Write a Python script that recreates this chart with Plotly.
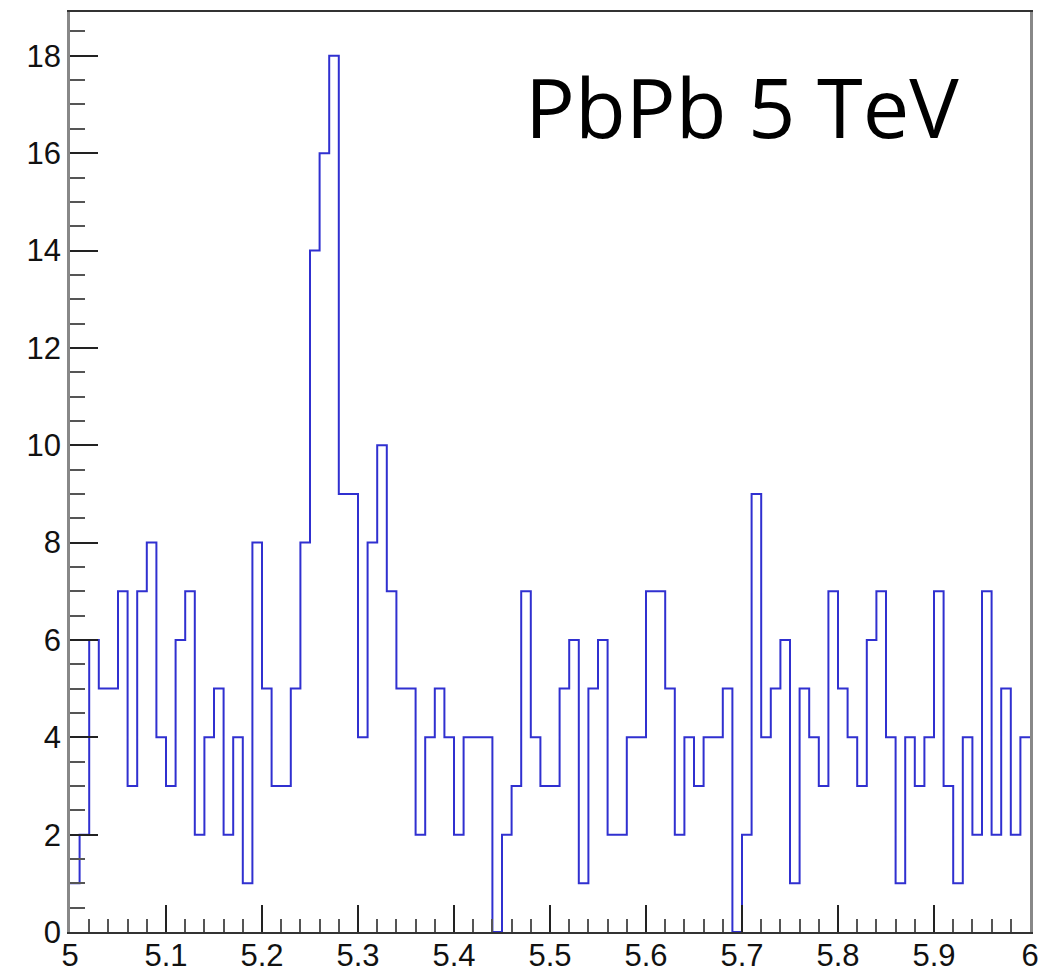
import plotly.graph_objects as go

# Histogram: 100 bins from 5.00 to 6.00 (width 0.01)
bin_start = 5.0
bin_width = 0.01
counts = [
    1, 2, 6, 5, 5, 7, 3, 7, 8, 4,
    3, 6, 7, 2, 4, 5, 2, 4, 1, 8,
    5, 3, 3, 5, 8, 14, 16, 18, 9, 9,
    4, 8, 10, 7, 5, 5, 2, 4, 5, 4,
    2, 4, 4, 4, 0, 2, 3, 7, 4, 3,
    3, 5, 6, 1, 5, 6, 2, 2, 4, 4,
    7, 7, 5, 2, 4, 3, 4, 4, 5, 0,
    2, 9, 4, 5, 6, 1, 5, 4, 3, 7,
    5, 4, 3, 6, 7, 4, 1, 4, 3, 4,
    7, 3, 1, 4, 2, 7, 2, 5, 2, 4,
]
x_ticks = [5.0, 5.1, 5.2, 5.3, 5.4, 5.5, 5.6, 5.7, 5.8, 5.9, 6.0]
x_tick_labels = ["5", "5.1", "5.2", "5.3", "5.4", "5.5", "5.6", "5.7", "5.8", "5.9", "6"]
y_ticks = [0, 2, 4, 6, 8, 10, 12, 14, 16, 18]
label_text = "PbPb 5 TeV"

n = len(counts)
edges = [round(bin_start + bin_width * i, 4) for i in range(n + 1)]
xs = edges
ys = counts + [counts[-1]]

fig = go.Figure()
fig.add_trace(go.Scatter(
    x=xs, y=ys, mode="lines", line_shape="hv",
    line=dict(color="#3030d0", width=2),
    hoverinfo="skip", showlegend=False,
))

font_ax = dict(family="Liberation Sans, Arial, sans-serif", size=31, color="#111")

fig.update_xaxes(
    range=[edges[0], edges[-1]], automargin=False,
    tickmode="array", tickvals=x_ticks, ticktext=x_tick_labels,
    ticks="inside", ticklen=27, tickwidth=1.5, tickcolor="#222",
    minor=dict(dtick=0.02, tick0=5.0, ticks="inside", ticklen=13, tickwidth=1.5, tickcolor="#555", showgrid=False),
    showline=True, linecolor="#333", linewidth=2, mirror=True,
    showgrid=False, zeroline=False, tickfont=font_ax, ticklabelstandoff=-5,
)
fig.update_yaxes(
    range=[0, 18.9], automargin=False,
    tickmode="array", tickvals=y_ticks,
    ticks="inside", ticklen=28, tickwidth=1.5, tickcolor="#222",
    minor=dict(dtick=0.5, tick0=0, ticks="inside", ticklen=15, tickwidth=1.5, tickcolor="#555", showgrid=False),
    showline=True, linecolor="#888", linewidth=2.5, mirror=True,
    showgrid=False, zeroline=False, tickfont=font_ax, ticklabelstandoff=0,
)

fig.add_annotation(
    text=label_text, xref="paper", yref="paper",
    x=(523 - 70) / 960, y=(932 - 105) / 920, xanchor="left", yanchor="middle",
    showarrow=False, font=dict(family="Open Sans, Noto Sans, sans-serif", size=83, color="#000"),
)

fig.update_layout(
    width=1044, height=973,
    margin=dict(l=70, r=14, t=12, b=41),
    paper_bgcolor="white", plot_bgcolor="white",
)

fig.write_html("out.html")
